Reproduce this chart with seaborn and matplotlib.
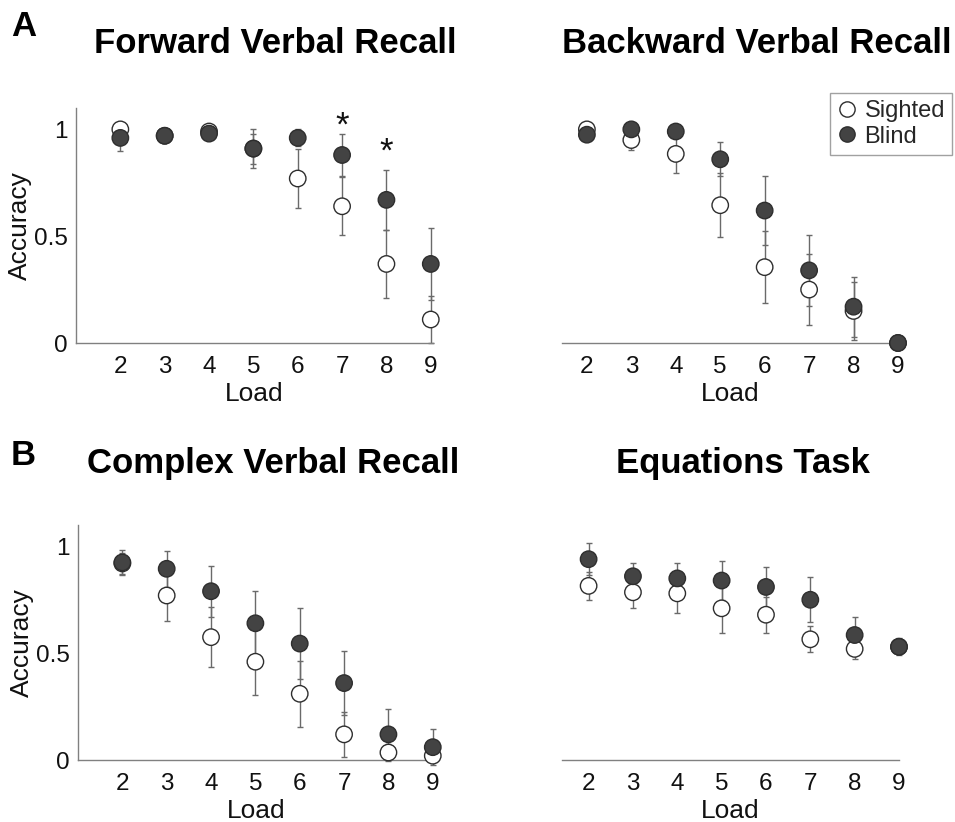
import matplotlib
matplotlib.use("Agg")
import matplotlib.pyplot as plt
from matplotlib.lines import Line2D
import seaborn as sns
import pandas as pd

# ---------------- data ----------------
loads = [2, 3, 4, 5, 6, 7, 8, 9]

fwd_sighted = [1.00, 0.97, 0.99, 0.91, 0.77, 0.64, 0.37, 0.11]
fwd_sighted_err = [0.02, 0.02, 0.02, 0.07, 0.14, 0.135, 0.16, 0.11]
fwd_blind = [0.96, 0.97, 0.98, 0.91, 0.96, 0.88, 0.67, 0.37]
fwd_blind_err = [0.06, 0.02, 0.02, 0.09, 0.04, 0.10, 0.14, 0.17]

bwd_sighted = [1.00, 0.95, 0.885, 0.645, 0.355, 0.25, 0.15, 0.0]
bwd_sighted_err = [0.02, 0.045, 0.09, 0.15, 0.17, 0.165, 0.135, 0.0]
bwd_blind = [0.975, 1.00, 0.99, 0.86, 0.62, 0.34, 0.17, 0.0]
bwd_blind_err = [0.02, 0.01, 0.015, 0.08, 0.16, 0.165, 0.14, 0.0]

cmp_sighted = [0.92, 0.77, 0.575, 0.46, 0.31, 0.12, 0.035, 0.02]
cmp_sighted_err = [0.05, 0.12, 0.14, 0.155, 0.155, 0.105, 0.04, 0.02]
cmp_blind = [0.925, 0.895, 0.79, 0.64, 0.545, 0.36, 0.12, 0.06]
cmp_blind_err = [0.06, 0.085, 0.12, 0.15, 0.165, 0.15, 0.12, 0.085]

eq_sighted = [0.815, 0.785, 0.78, 0.71, 0.68, 0.565, 0.52, 0.53]
eq_sighted_err = [0.065, 0.075, 0.09, 0.115, 0.085, 0.06, 0.045, 0.03]
eq_blind = [0.94, 0.86, 0.85, 0.84, 0.81, 0.75, 0.585, 0.53]
eq_blind_err = [0.075, 0.06, 0.07, 0.09, 0.095, 0.105, 0.085, 0.04]

titles = ["Forward Verbal Recall", "Backward Verbal Recall",
          "Complex Verbal Recall", "Equations Task"]
groups = ["Sighted", "Blind"]
yticks = [0, 0.5, 1]
ytick_labels = ["0", "0.5", "1"]
sig_loads = [7, 8]
sig_heights = [1.047, 0.925]

# ---------------- style ----------------
sns.set_theme(style="white")
plt.rcParams["font.family"] = ["Liberation Sans", "DejaVu Sans"]

W, H = 955, 822
fig = plt.figure(figsize=(W / 100, H / 100), dpi=100)

SPINE = "#808080"
EDGE = "#2e2e2e"
BLIND = "#434343"
ERR = "#6a6a6a"


def px_axes(left, right, top, bottom):
    return fig.add_axes([left / W, 1 - bottom / H, (right - left) / W, (bottom - top) / H])


panels = [
    dict(rect=(76, 433, 108, 343), xlim=(1, 9.05), show_y=True,
         s=fwd_sighted, se=fwd_sighted_err, b=fwd_blind, be=fwd_blind_err),
    dict(rect=(562, 898, 108, 343), xlim=(1.44, 9.0), show_y=False,
         s=bwd_sighted, se=bwd_sighted_err, b=bwd_blind, be=bwd_blind_err),
    dict(rect=(78, 435, 525, 760), xlim=(1, 9.05), show_y=True,
         s=cmp_sighted, se=cmp_sighted_err, b=cmp_blind, be=cmp_blind_err),
    dict(rect=(562, 899, 525, 760), xlim=(1.4, 9.0), show_y=False,
         s=eq_sighted, se=eq_sighted_err, b=eq_blind, be=eq_blind_err),
]

axes = []
for p in panels:
    ax = px_axes(*p["rect"])
    axes.append(ax)
    df = pd.DataFrame({
        "Load": loads + loads,
        "Accuracy": p["s"] + p["b"],
        "Group": ["Sighted"] * len(loads) + ["Blind"] * len(loads),
    })
    for vals, errs in ((p["s"], p["se"]), (p["b"], p["be"])):
        ax.errorbar(loads, vals, yerr=errs, fmt="none", ecolor=ERR,
                    elinewidth=1.0, capsize=2, capthick=1.0, zorder=2,
                    clip_on=False)
    sns.scatterplot(data=df, x="Load", y="Accuracy", hue="Group",
                    palette={"Sighted": "white", "Blind": BLIND},
                    s=140, edgecolor=EDGE, linewidth=1.0, legend=False,
                    ax=ax, zorder=3, clip_on=False)
    ax.set_xlim(*p["xlim"])
    ax.set_ylim(0, 1.1)
    ax.set_xticks(loads)
    ax.set_xticklabels([str(v) for v in loads])
    ax.tick_params(axis="x", direction="in", length=4, color=SPINE,
                   labelsize=17.5, pad=9, labelcolor="#111111")
    for side in ("top", "right"):
        ax.spines[side].set_visible(False)
    ax.spines["bottom"].set_color(SPINE)
    ax.spines["bottom"].set_linewidth(1.0)
    if p["show_y"]:
        ax.set_yticks(yticks)
        ax.set_yticklabels(ytick_labels)
        ax.tick_params(axis="y", direction="in", length=4, color=SPINE,
                       labelsize=17.5, pad=6, labelcolor="#111111")
        ax.spines["left"].set_color(SPINE)
        ax.spines["left"].set_linewidth(1.0)
        ax.set_ylabel("Accuracy", fontsize=19, color="#111111")
        ax.yaxis.set_label_coords(-0.123, 0.5)
    else:
        ax.spines["left"].set_visible(False)
        ax.set_yticks([])
        ax.set_ylabel("")
    ax.set_xlabel("Load", fontsize=19, color="#111111")
    ax.xaxis.set_label_coords(0.5, -0.165)
    ax.set_facecolor("white")

# significance asterisks
for xv, yv in zip(sig_loads, sig_heights):
    axes[0].text(xv, yv - 0.03, "*", ha="center", va="center",
                 fontsize=25, color="#111111", clip_on=False)

# titles
title_pos = [(275, 53), (757, 53), (273, 473), (743, 473)]
for t, (tx, ty) in zip(titles, title_pos):
    fig.text(tx / W, 1 - ty / H, t, ha="center", va="baseline",
             fontsize=25, fontweight="bold", color="black")

# panel letters
fig.text(11 / W, 1 - 36 / H, "A", ha="left", va="baseline",
         fontsize=25, fontweight="bold", color="black")
fig.text(11 / W, 1 - 465 / H, "B", ha="left", va="baseline",
         fontsize=25, fontweight="bold", color="black")

# legend
handles = [
    Line2D([], [], linestyle="none", marker="o", markersize=11,
           markerfacecolor="white", markeredgecolor=EDGE, markeredgewidth=1.0),
    Line2D([], [], linestyle="none", marker="o", markersize=11,
           markerfacecolor=BLIND, markeredgecolor=EDGE, markeredgewidth=1.0),
]
leg = fig.legend(handles, groups, loc="upper right",
                 bbox_to_anchor=(952 / W, 1 - 93 / H), fontsize=17,
                 frameon=True, fancybox=False, edgecolor="#8a8a8a",
                 handlelength=0.8, handletextpad=0.35, borderpad=0.3,
                 labelspacing=0.15, borderaxespad=0.0)
leg.get_frame().set_linewidth(1.0)

fig.savefig("out.png", dpi=100, facecolor="white")
